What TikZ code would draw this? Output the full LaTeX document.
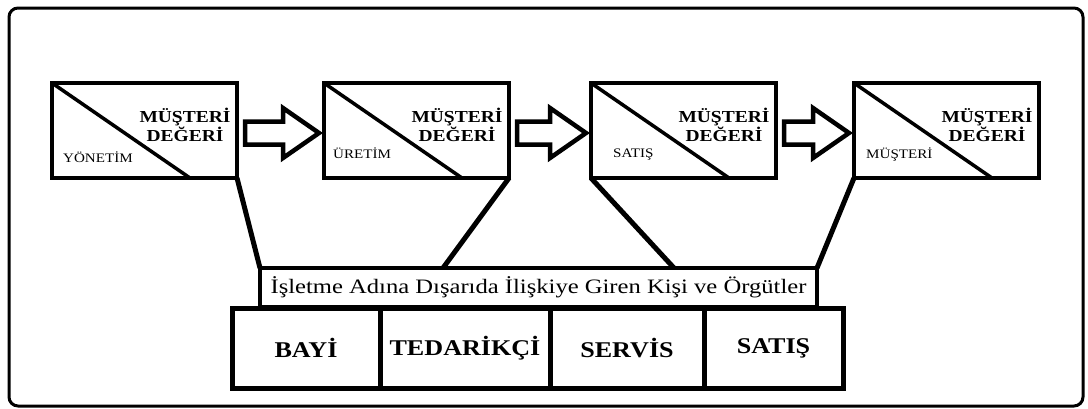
\documentclass[tikz,border=0pt]{standalone}
\usepackage{fontspec}
\setmainfont{Liberation Serif}
\newfontfamily\widefont[FakeStretch=1.16]{Liberation Serif}
\newfontfamily\bandfont[FakeStretch=1.2]{Liberation Serif}
\usetikzlibrary{calc}

\tikzset{
  valuebox/.style={draw, line width=4.5pt, minimum width=185pt, minimum height=95pt,
    anchor=north west, outer sep=0pt, inner sep=0pt},
  valuetext/.style={font=\widefont\bfseries\fontsize{16.8}{19}\selectfont, align=center},
  ownertext/.style={font=\widefont\fontsize{13}{15}\selectfont, anchor=base west, inner sep=0pt},
  bandbox/.style={draw, line width=4.5pt, minimum width=557pt, minimum height=39pt,
    outer sep=0pt, font=\bandfont\fontsize{20.5}{22}\selectfont},
  partbox/.style={draw, line width=5pt, minimum height=80pt, outer sep=0pt,
    anchor=north west, font=\widefont\bfseries\fontsize{22.5}{25}\selectfont},
  link/.style={line width=5pt},
  blockarrow/.style={line width=4.5pt, line join=miter, fill=white}
}

\begin{document}
\begin{tikzpicture}[x=1pt,y=-1pt]
  \useasboundingbox (0,0) rectangle (1088,408);
  \draw[line width=3pt, rounded corners=9pt] (9,8) rectangle (1083,406);

  % value chain boxes
  \foreach \x/\name/\owner/\gap/\base in {52/yon/YÖNETİM/11/79, 324/ure/ÜRETİM/9/75,
      591/sat/SATIŞ/22/74, 854/mus/MÜŞTERİ/12/75}{
    \node[valuebox] (\name) at (\x,83) {};
    \draw[line width=3.5pt] (\name.north west) -- ([xshift=138pt]\name.south west);
    \node[valuetext] at ([shift={(133,42)}]\name.north west) {MÜŞTERİ\\DEĞERİ};
    \node[ownertext] at ([shift={(\gap,\base)}]\name.north west) {\owner};
  }

  % block arrows
  \foreach \a/\b in {yon/ure, ure/sat, sat/mus}{
    \coordinate (s) at ([shift={(8,2.5)}]\a.east);
    \coordinate (t) at ([shift={(-5,2.5)}]\b.west);
    \draw[blockarrow] ($(s)+(0,-11.5)$) -- ($(t)+(-36,-11.5)$) -- ($(t)+(-36,-25)$)
      -- (t) -- ($(t)+(-36,25)$) -- ($(t)+(-36,11.5)$) -- ($(s)+(0,11.5)$) -- cycle;
  }

  % outside parties
  \node[bandbox] (band) at (538.5,287.5) {İşletme Adına Dışarıda İlişkiye Giren Kişi ve Örgütler};
  \foreach \x/\w/\name/\lbl in {232/148/bayi/BAYİ, 380/170/ted/TEDARİKÇİ,
      550/154/serv/SERVİS, 704/139/sats/SATIŞ}
    \node[partbox, minimum width=\w pt] (\name) at (\x,308) {\lbl};

  % links
  \draw[link] (yon.south east) -- (band.north west);
  \draw[link] (ure.south east) -- ([xshift=183pt]band.north west);
  \draw[link] (sat.south west) -- ([xshift=414pt]band.north west);
  \draw[link] (mus.south west) -- (band.north east);
\end{tikzpicture}
\end{document}
